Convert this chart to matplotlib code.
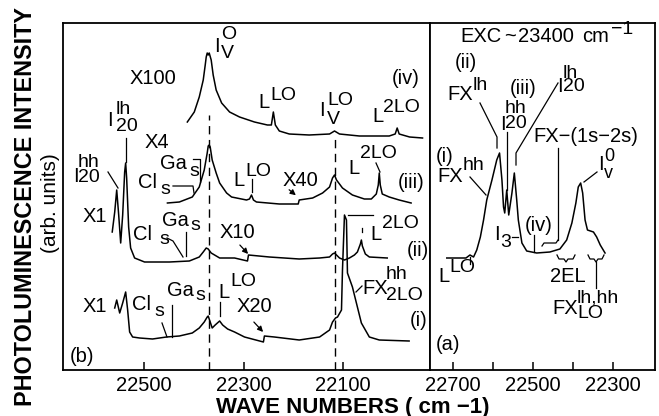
import matplotlib
matplotlib.use("Agg")
import matplotlib.pyplot as plt
from matplotlib.lines import Line2D
from matplotlib.patches import FancyArrowPatch

plt.rcParams['font.family'] = ['Liberation Sans', 'DejaVu Sans']

# ---------------- data (wave numbers in cm-1, intensity in arb. units, stacked) -------------
iv_wn = [22413, 22399, 22389, 22381, 22377, 22375, 22373, 22371, 22369, 22365, 22361, 22355,
         22344, 22328, 22308, 22278, 22252, 22244, 22240, 22236, 22228, 22208, 22168, 22127,
         22117, 22107, 22067, 22007, 21995, 21991, 21987, 21966, 21940]
iv_int = [248, 258, 273, 290, 305, 313, 317, 315, 317, 310, 295, 280, 267, 258, 253, 248, 245,
          245, 258, 245, 239, 236, 235, 236, 239, 236, 234, 234, 236, 242, 236, 233, 232]

iii_wn = [22453, 22429, 22403, 22389, 22379, 22373, 22371, 22369, 22367, 22363, 22355, 22348,
          22334, 22324, 22294, 22288, 22284, 22280, 22274, 22228, 22190, 22188, 22161, 22141,
          22127, 22121, 22117, 22113, 22101, 22081, 22057, 22043, 22033, 22029, 22027, 22025,
          22021, 22007, 21987, 21963]
iii_int = [167, 168, 173, 183, 200, 217, 224, 225, 223, 210, 197, 187, 177, 173, 170, 171, 175,
           170, 168, 166, 166, 170, 172, 177, 183, 192, 195, 190, 182, 175, 171, 171, 176, 185,
           197, 185, 176, 173, 170, 167]

ii_wn = [22564, 22559, 22555, 22551, 22547, 22543, 22539, 22537, 22535, 22531, 22527, 22519,
         22499, 22449, 22409, 22389, 22381, 22375, 22371, 22365, 22348, 22318, 22292, 22290,
         22248, 22188, 22147, 22127, 22121, 22117, 22113, 22107, 22097, 22087, 22077, 22071,
         22065, 22063, 22061, 22055, 22047, 22011]
ii_int = [138, 158, 180, 155, 127, 155, 198, 207, 192, 143, 122, 112, 108, 108, 109, 113, 118,
          122, 121, 117, 112, 112, 109, 115, 113, 111, 112, 113, 116, 117, 115, 112, 110, 112,
          115, 118, 126, 130, 124, 116, 113, 112]

i_wn = [22559, 22555, 22549, 22543, 22537, 22533, 22529, 22523, 22509, 22483, 22455, 22429,
        22403, 22389, 22379, 22373, 22371, 22367, 22363, 22357, 22348, 22342, 22332, 22318,
        22298, 22260, 22258, 22238, 22188, 22147, 22127, 22121, 22115, 22111, 22103, 22101,
        22097, 22093, 22091, 22081, 22071, 22063, 22047, 22027, 21967]
i_int = [62, 70, 57, 67, 78, 60, 38, 33, 32, 31, 33, 34, 37, 42, 48, 53, 54, 48, 42, 45, 49, 45,
         41, 38, 33, 28, 34, 33, 30, 33, 40, 48, 52, 53, 60, 100, 155, 150, 97, 83, 63, 47, 33,
         30, 29]

a_wn = [22716, 22668, 22658, 22649, 22641, 22632, 22624, 22616, 22603, 22591, 22584, 22578,
        22574, 22571, 22566, 22561, 22553, 22547, 22541, 22537, 22528, 22516, 22491, 22458,
        22433, 22416, 22403, 22393, 22387, 22381, 22376, 22370, 22364, 22349, 22341, 22332,
        22320]
a_int = [112, 112, 115, 113, 120, 133, 150, 170, 190, 210, 217, 190, 163, 157, 180, 155, 177,
         197, 170, 150, 127, 119, 117, 118, 121, 130, 147, 167, 183, 187, 177, 150, 140, 138,
         133, 125, 117]

dashed_wn = [22369, 22116]
dashed_top = [255, 236]

ticks_b = [22500, 22300, 22100]
ticks_a = [22700, 22600, 22500, 22400, 22300]
ticklabels_a = ['22700', '', '22500', '', '22300']

# ---------------- figure -------------
W, H = 659, 416
fig = plt.figure(figsize=(W / 100, H / 100), dpi=100)
axL = fig.add_axes([63 / W, 1 - 370 / H, 367 / W, 347 / H])
axR = fig.add_axes([430 / W, 1 - 370 / H, 225 / W, 347 / H])

lw = 1.1
for wn, it in [(iv_wn, iv_int), (iii_wn, iii_int), (ii_wn, ii_int), (i_wn, i_int)]:
    axL.plot(wn, it, color='k', lw=lw, solid_joinstyle='round')
for x, top in zip(dashed_wn, dashed_top):
    axL.plot([x, x], [0, top], color='k', lw=1.0, ls=(0, (6, 4)))
axR.plot(a_wn, a_int, color='k', lw=lw, solid_joinstyle='round')

axL.set_xlim(22663, 21925)
axR.set_xlim(22758, 22195)
for ax in (axL, axR):
    ax.set_ylim(0, 347)
    ax.set_yticks([])
    for s in ax.spines.values():
        s.set_linewidth(1.3)
    ax.tick_params(axis='x', direction='in', length=6, width=1.1, labelsize=14.5, pad=4)
axL.set_xticks(ticks_b)
axL.set_xticklabels([str(t) for t in ticks_b])
axR.set_xticks(ticks_a)
axR.set_xticklabels(ticklabels_a)

# ---------------- annotation helpers (pixel positions) -------------
def T(x, y, s, size=14.5, **kw):
    fig.text(x / W, 1 - y / H, s, fontsize=size, ha='left', va='center', **kw)

def ML(x, yc, s, size, step):
    # stacked superscript/subscript pair, baseline-to-baseline distance `step` pixels
    em = size * 100 / 72
    ls = max((step - 0.21 * em) / (0.72 * em), 0.3)
    fig.text(x / W, 1 - yc / H, s, fontsize=size, ha='left', va='center',
             multialignment='left', linespacing=ls)

def Lp(pts, lw=0.9):
    xs = [p[0] / W for p in pts]
    ys = [1 - p[1] / H for p in pts]
    fig.add_artist(Line2D(xs, ys, transform=fig.transFigure, color='k', lw=lw))

def Arr(p0, p1):
    fig.add_artist(FancyArrowPatch((p0[0] / W, 1 - p0[1] / H), (p1[0] / W, 1 - p1[1] / H),
                                   transform=fig.transFigure, arrowstyle='-|>',
                                   mutation_scale=8, lw=0.9, color='k'))

S = 14.5
s2 = 14
s3 = 13
# axis labels
fig.text(26 / W, 1 - 206 / H, 'PHOTOLUMINESCENCE INTENSITY', rotation=90, fontsize=16.8,
         fontweight='bold', ha='center', va='center')
fig.text(51 / W, 1 - 203 / H, '(arb. units)', rotation=90, fontsize=15, ha='center', va='center')
fig.text(353 / W, 1 - 407 / H, 'WAVE NUMBERS ( cm \u22121)', fontsize=16, fontweight='bold',
         ha='center', va='center')

# ---- panel (b)
T(214, 46, 'I', S); ML(221, 44, 'O\nV', s2, 21)
T(130, 78, 'X100', S)
T(392, 79, '(iv)', S)
T(258, 102, 'L', S); T(270, 95, 'LO', s2)
T(319, 110, 'I', S); ML(327, 110, 'LO\nV', s2, 20)
T(372, 117, 'L', S); T(383, 108, '2LO', s2)
T(107, 120, 'I', S); ML(116, 118, 'lh\n20', s2, 18)
Lp([(126, 138), (126, 162)])
T(145, 142, 'X4', S)
T(73, 177, 'I', S); ML(78, 170, 'hh\n20', s2, 17)
Lp([(108, 172), (118, 188)])
T(160, 163, 'Ga', S); T(189, 171, 's', s2)
Lp([(193, 159), (200, 159), (200, 182)])
T(138, 183, 'Cl', S); T(160, 189, 's', s2)
Lp([(173, 186), (193, 186), (194, 193)])
T(233, 180, 'L', S); T(245, 171, 'LO', s2)
Lp([(252, 179), (252, 192)])
T(283, 180, 'X40', S)
Arr((287, 188), (298, 197))
T(348, 168, 'L', S); T(360, 154, '2LO', s2)
Lp([(376, 163), (380, 172)])
T(398, 182, '(iii)', S)
T(83, 216, 'X1', S)
T(133, 234, 'Cl', S); T(159, 240, 's', s2)
Lp([(167, 238), (173, 241), (183, 257)])
T(162, 220, 'Ga', S); T(190, 225, 's', s2)
Lp([(186, 232), (186, 256)])
T(220, 233, 'X10', S)
Arr((238, 243), (250, 256))
T(370, 234, 'L', S); T(382, 223, '2LO', s2)
Lp([(362, 228), (362, 232)])
T(407, 251, '(ii)', S)
T(83, 306, 'X1', S)
T(132, 305, 'Cl', S); T(154, 311, 's', s2)
Lp([(162, 323), (167, 337)])
T(167, 290, 'Ga', S); T(195, 296, 's', s2)
Lp([(172, 305), (172, 337)])
T(218, 292, 'L', S); T(230, 281, 'LO', s2)
Lp([(220, 302), (220, 316)])
T(237, 307, 'X20', S)
Arr((252, 320), (265, 334))
T(362, 289, 'FX', S); ML(386, 285, 'hh\n2LO', s2, 23)
Lp([(362, 286), (356, 292)])
Lp([(348, 215), (373, 215)])
T(410, 321, '(i)', S)
T(70, 356, '(b)', S)

# ---- panel (a)
T(460, 37, 'EXC', S); T(504, 36, '~', S); T(518, 37, '23400', S); T(582, 37, 'cm', S)
T(611, 30, '\u22121', s2)
T(455, 62, '(ii)', S)
T(447, 95, 'FX', S); T(473, 86, 'lh', s2)
Lp([(480, 103), (497, 137), (497, 148)])
T(510, 88, '(iii)', S)
T(500, 124, 'I', S); ML(505, 116, 'hh\n20', s2, 15)
Lp([(507, 132), (507, 190)])
T(557, 87, 'I', S); ML(563, 80, 'lh\n20', s2, 14)
Lp([(558, 83), (516, 153), (516, 165)])
T(533, 137, 'FX\u2212(1s\u22122s)', S)
Lp([(558, 148), (558, 240)])
Lp([(542, 246), (544, 243), (556, 243), (558, 240)])
T(436, 156, '(i)', S)
T(437, 176, 'FX', S); T(463, 166, 'hh', s2)
Lp([(470, 177), (486, 195)])
T(598, 165, 'I', S); ML(604, 165, '0\nv', s3, 17)
Lp([(597, 172), (584, 182)])
T(525, 226, '(iv)', S)
Lp([(534, 235), (534, 252)])
T(494, 234, 'I', S); T(500, 242, '3', s2)
Lp([(512, 237), (518, 237)])
T(438, 276, 'L', S); T(449, 268, 'LO', s2)
Lp([(470, 257), (470, 264)])
Lp([(557, 255), (559, 259), (564, 259), (566, 262), (568, 259), (573, 259), (575, 255)])
T(550, 276, '2EL', S)
Lp([(588, 255), (590, 259), (594, 259), (596, 262), (598, 259), (602, 259), (604, 255)])
Lp([(596, 262), (596, 288)])
T(552, 309, 'FX', S); ML(577, 306, 'lh,hh\nLO', s2, 17)
T(436, 345, '(a)', S)

fig.savefig('out.png', dpi=100)
